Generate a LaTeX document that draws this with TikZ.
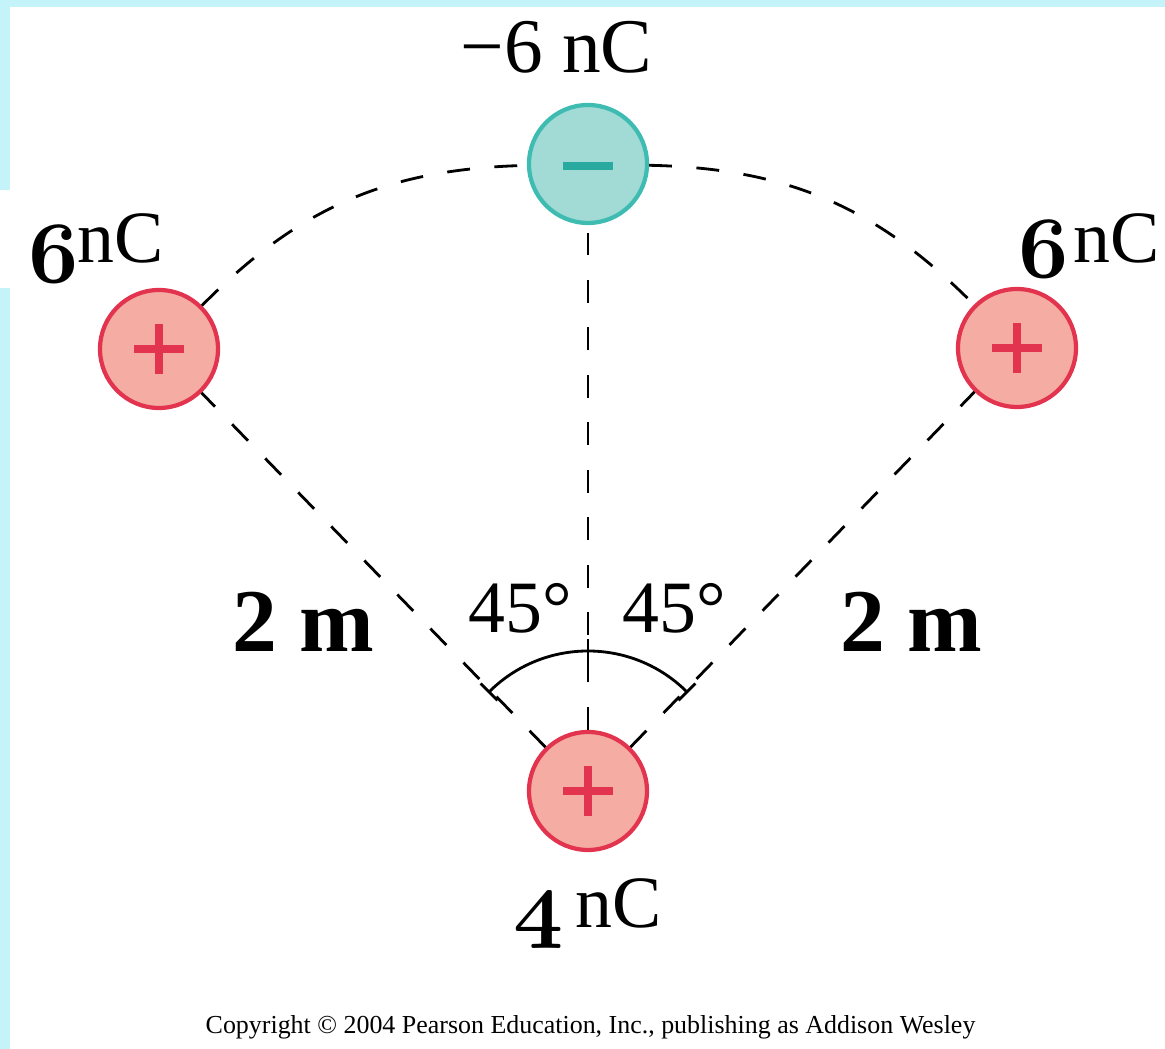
\documentclass[tikz,border=0pt]{standalone}
\usepackage{fontspec}
\setmainfont{Liberation Serif}
\usepackage{tikz}
\usetikzlibrary{positioning}
\definecolor{bgcyan}{RGB}{196,244,250}
\definecolor{posfill}{RGB}{245,172,162}
\definecolor{posline}{RGB}{226,52,78}
\definecolor{negfill}{RGB}{162,218,213}
\definecolor{negline}{RGB}{62,188,178}
\definecolor{negsign}{RGB}{40,170,160}
% bold old-style figures
\newcommand{\bnum}[1]{{\usefont{OML}{cmm}{b}{it}#1}}

\begin{document}
\begin{tikzpicture}[
  charge/.style={circle, minimum size=1.18cm, inner sep=0pt, line width=1.2pt},
  poscharge/.style={charge, draw=posline, fill=posfill,
    path picture={\draw[posline, line width=2pt]
      (path picture bounding box.center) +(-0.25,0) -- +(0.25,0)
      (path picture bounding box.center) +(0,-0.25) -- +(0,0.25);}},
  negcharge/.style={charge, draw=negline, fill=negfill,
    path picture={\draw[negsign, line width=2.3pt]
      (path picture bounding box.center) +(-0.25,-0.02) -- +(0.25,-0.02);}},
  dashline/.style={black, line width=0.8pt, dash pattern=on 6.5pt off 7pt},
  txt/.style={inner sep=0pt, anchor=base west, font=\fontsize{21}{24}\selectfont},
  bignum/.style={inner sep=0pt, anchor=base west, font=\fontsize{24.88}{30}\selectfont},
  dist/.style={inner sep=0pt, anchor=base west, font=\fontsize{25.5}{28}\selectfont\bfseries}
]
  \useasboundingbox (0,0) rectangle (11.65,-10.49);
  \fill[bgcyan] (0,0) rectangle (11.65,-0.07);
  \fill[bgcyan] (0,0) rectangle (0.10,-1.90);
  \fill[bgcyan] (0,-2.88) rectangle (0.10,-10.49);

  % charges
  \node[negcharge] (top) at (5.88,-1.64) {};
  \node[poscharge] (lft) at (1.59,-3.49) {};
  \node[poscharge] (rgt) at (10.17,-3.48) {};
  \node[poscharge] (bot) at (5.88,-7.91) {};

  % dashed lines
  \draw[dashline] (bot) -- (lft);
  \draw[dashline] (bot) -- (rgt);
  \draw[dashline] (bot) -- (top);
  \draw[dashline] (lft) to[bend left=22] (top);
  \draw[dashline] (top) to[bend left=22] (rgt);

  % angle
  \draw[line width=0.8pt] ([shift={(45:1.4)}]bot.center) arc[start angle=45, end angle=135, radius=1.4];
  \foreach \a in {45,90,135}
    \draw[line width=0.8pt] ([shift={(\a:1.28)}]bot.center) -- ([shift={(\a:1.52)}]bot.center);

  % labels
  \node[txt, font=\fontsize{22}{26}\selectfont] (qtop) at (4.60,-0.73) {−6 nC};
  \node[bignum] (nl) at (0.28,-2.83) {\bnum{6}};
  \node[txt] (ul) at (0.77,-2.63) {nC};
  \node[bignum] (nr) at (10.18,-2.78) {\bnum{6}};
  \node[txt] (ur) at (10.73,-2.63) {nC};
  \node[bignum] (nb) at (5.13,-9.32) {\bnum{4}};
  \node[txt] (ub) at (5.75,-9.28) {nC};
  \node[dist] (dl) at (2.32,-6.52) {2 m};
  \node[dist] (dr) at (8.40,-6.52) {2 m};
  \node[txt] (al) at (4.68,-6.33) {45°};
  \node[txt] (ar) at (6.22,-6.33) {45°};
  \node[inner sep=0pt, anchor=base west, font=\fontsize{7.38}{9}\selectfont] (copy) at (2.05,-10.34)
    {Copyright © 2004 Pearson Education, Inc., publishing as Addison Wesley};
\end{tikzpicture}
\end{document}
